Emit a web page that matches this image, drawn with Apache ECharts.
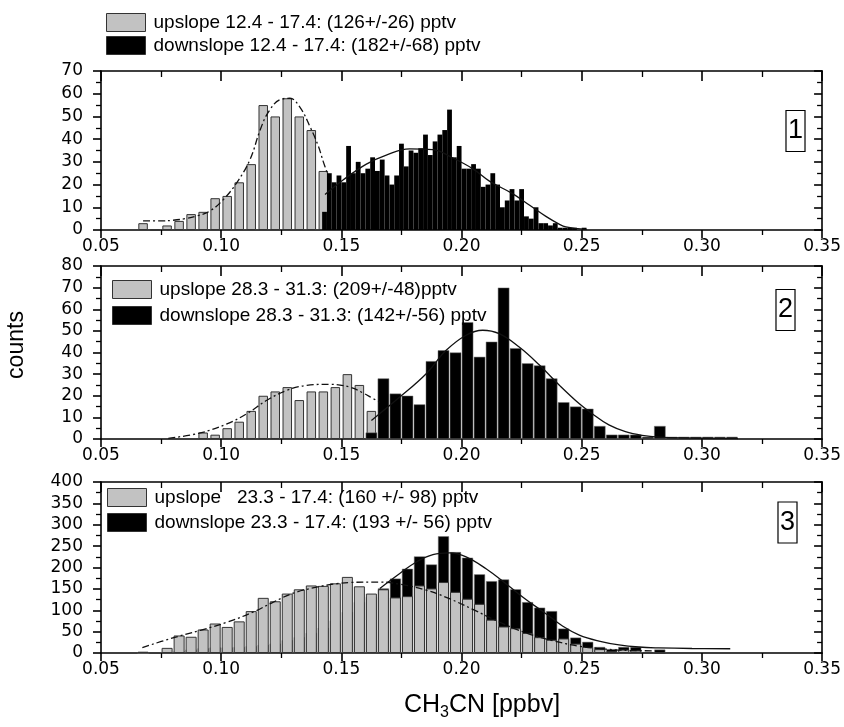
<!DOCTYPE html>
<html>
<head>
<meta charset="utf-8">
<script src="https://cdn.jsdelivr.net/npm/echarts@6/dist/echarts.min.js"></script>
<style>
html, body { margin: 0; padding: 0; background: #fff; }
#chart { width: 844px; height: 727px; }
</style>
</head>
<body>
<div id="chart"></div>
<script>
// CH3CN histograms, upslope vs downslope, three periods

// panel 1 (12.4 - 17.4)
const p1UpName = 'upslope 12.4 - 17.4: (126+/-26) pptv';
const p1DownName = 'downslope 12.4 - 17.4: (182+/-68) pptv';
const p1UpStart = 0.0675, p1UpBin = 0.005;
const p1UpCounts = [3, 0, 2, 4, 7, 8, 14, 15, 21, 29, 55, 50, 58, 50, 44, 26];
const p1DownStart = 0.143, p1DownBin = 0.002;
const p1DownCounts = [8, 25, 21, 24, 21, 37, 25, 30, 25, 27, 32, 26, 31, 24, 20, 24, 38, 28, 35, 34,
  36, 42, 33, 39, 42, 44, 53, 32, 37, 27, 27, 29, 27, 19, 20, 25, 20, 10, 13, 18,
  13, 18, 6, 5, 10, 3, 3, 2, 3, 1, 1, 1, 1, 0, 1];
const p1UpFit = [[0.0675, 4], [0.075, 4], [0.080, 4.3], [0.085, 5], [0.090, 6.2], [0.0955, 8.5], [0.101, 13.5],
  [0.1066, 21], [0.112, 31], [0.1162, 44], [0.1197, 52], [0.1245, 57.4], [0.1286, 58], [0.1328, 54],
  [0.1369, 45.6], [0.1404, 37], [0.1425, 30], [0.1445, 24]];
const p1DownFit = [[0.1432, 15.6], [0.1507, 22], [0.1604, 29], [0.1687, 33], [0.1784, 35.7], [0.188, 35.4],
  [0.1964, 31.7], [0.2046, 27], [0.2116, 21.5], [0.2212, 16], [0.2282, 11], [0.2351, 6], [0.2406, 2.6],
  [0.2434, 1.4], [0.252, 0.3]];

// panel 2 (28.3 - 31.3)
const p2UpName = 'upslope 28.3 - 31.3: (209+/-48)pptv';
const p2DownName = 'downslope 28.3 - 31.3: (142+/-56) pptv';
const p2UpStart = 0.0925, p2UpBin = 0.005;
const p2UpCounts = [3, 2, 5, 8, 13, 20, 22, 24, 18, 22, 22, 24, 30, 25, 13];
const p2DownStart = 0.1625, p2DownBin = 0.005;
const p2DownCounts = [3, 28, 21, 20, 16, 36, 41, 40, 54, 38, 45, 70, 42, 35, 34, 28, 17, 15, 14, 6,
  2, 2, 2, 1, 6, 1, 1, 1, 1, 1, 1];
const p2UpFit = [[0.078, 0.3], [0.0913, 2.8], [0.1024, 7], [0.1107, 11.7], [0.119, 17.9], [0.1273, 22.5],
  [0.1356, 24.8], [0.1452, 25.3], [0.1535, 24], [0.159, 21.3], [0.1632, 18.7], [0.166, 17]];
const p2DownFit = [[0.1625, 8.6], [0.1743, 19.4], [0.1853, 30.2], [0.1936, 41], [0.2019, 48], [0.2088, 50.3],
  [0.2157, 48.7], [0.224, 42.5], [0.2323, 34.3], [0.2406, 25], [0.2489, 16.4], [0.2544, 11.7],
  [0.2613, 6.5], [0.2682, 3.4], [0.2751, 1.7], [0.282, 0.9], [0.30, 0.3], [0.315, 0.2]];

// panel 3 (23.3 - 17.4)
const p3UpName = 'upslope   23.3 - 17.4: (160 +/- 98) pptv';
const p3DownName = 'downslope 23.3 - 17.4: (193 +/- 56) pptv';
const p3Start = 0.0675, p3Bin = 0.005;
const p3UpCounts = [3, 0, 12, 41, 38, 55, 69, 61, 74, 98, 129, 121, 139, 149, 158, 157, 163, 178, 156, 139,
  149, 130, 133, 158, 151, 166, 143, 127, 115, 78, 62, 58, 47, 37, 31, 34, 22, 14, 9, 4, 8, 6, 1, 0];
const p3DownCounts = [0, 0, 2, 4, 8, 11, 13, 13, 14, 16, 19, 22, 30, 37, 47, 59, 76, 96, 119, 131,
  151, 174, 197, 226, 207, 273, 236, 223, 184, 168, 172, 149, 119, 106, 98, 57, 36, 26, 14, 9, 14, 14, 2, 8];
const p3UpFit = [[0.0672, 12.6], [0.0789, 33.6], [0.0913, 53], [0.1024, 72], [0.1134, 96], [0.1217, 119],
  [0.13, 140], [0.1397, 154], [0.148, 162], [0.1535, 165], [0.166, 166], [0.1743, 161], [0.1853, 147],
  [0.195, 127], [0.2047, 102], [0.2157, 72.5], [0.2268, 47], [0.2378, 29], [0.2489, 16], [0.26, 9],
  [0.27, 6], [0.28, 5]];
const p3DownFit = [[0.166, 151], [0.1743, 186], [0.1812, 213], [0.1881, 230], [0.195, 234], [0.2019, 225],
  [0.2102, 197], [0.2185, 162], [0.2268, 125], [0.2351, 92], [0.242, 63], [0.249, 42], [0.2572, 28],
  [0.2655, 19], [0.2738, 14], [0.282, 12], [0.2959, 10.5], [0.3118, 10]];

const xRange = [0.05, 0.35, 0.05];
const yRanges = [[0, 70, 10], [0, 80, 10], [0, 400, 50]];

function bins(start, width, counts) {
  return counts.map((c, i) => [+(start + i * width).toFixed(4), c]);
}

const GRAY = '#c2c2c2';
const tickFont = 'DejaVu Sans';
const textFont = 'Liberation Sans';
const axisLineStyle = { color: '#000', width: 1.6 };

const gridPos = [{ top: 71, height: 159 }, { top: 266, height: 173 }, { top: 482, height: 171 }];

const xAxes = [];
const yAxes = [];
gridPos.forEach((g, i) => {
  const base = {
    type: 'value', gridIndex: i, min: xRange[0], max: xRange[1], interval: xRange[2],
    splitLine: { show: false },
    axisLine: { show: true, onZero: false, lineStyle: axisLineStyle },
    axisTick: { show: true, length: 8, lineStyle: { color: '#000', width: 1.6 } },
    minorTick: { show: true, splitNumber: 2, length: 5, lineStyle: { color: '#000', width: 1.3 } }
  };
  xAxes.push(Object.assign({}, base, {
    position: 'bottom',
    axisLabel: { formatter: v => v.toFixed(2), fontFamily: tickFont, fontSize: 17, color: '#000', margin: 8 }
  }));
  xAxes.push(Object.assign({}, base, {
    position: 'top',
    axisTick: { show: true, inside: true, length: 10, lineStyle: { color: '#000', width: 1.6 } },
    minorTick: { show: true, splitNumber: 2, length: 6, lineStyle: { color: '#000', width: 1.3 } },
    axisLabel: { show: false }
  }));
  xAxes.push({ type: 'value', gridIndex: i, min: xRange[0], max: xRange[1], show: false });

  const yr = yRanges[i];
  const ybase = {
    type: 'value', gridIndex: i, min: yr[0], max: yr[1], interval: yr[2],
    splitLine: { show: false },
    axisLine: { show: true, onZero: false, lineStyle: axisLineStyle },
    axisTick: { show: true, length: 8, lineStyle: { color: '#000', width: 1.6 } },
    minorTick: { show: true, splitNumber: 2, length: 5, lineStyle: { color: '#000', width: 1.3 } }
  };
  yAxes.push(Object.assign({}, ybase, {
    position: 'left',
    axisLabel: { fontFamily: tickFont, fontSize: 17, color: '#000', margin: 18 }
  }));
  yAxes.push(Object.assign({}, ybase, {
    position: 'right',
    axisTick: { show: true, inside: true, length: 8, lineStyle: { color: '#000', width: 1.6 } },
    axisLabel: { show: false }
  }));
});

function barSeries(name, data, gi, ownAxis, color, width, z, border) {
  return {
    name: name, type: 'bar', data: data,
    xAxisIndex: gi * 3 + (ownAxis ? 2 : 0), yAxisIndex: gi * 2,
    barWidth: width, z: z, animation: false,
    itemStyle: { color: color, borderColor: border.color, borderWidth: border.width }
  };
}

function fitSeries(data, gi, dashed) {
  return {
    type: 'line', data: data, xAxisIndex: gi * 3, yAxisIndex: gi * 2,
    showSymbol: false, smooth: 0.4, z: 5, animation: false, silent: true,
    lineStyle: { color: '#111', width: 1.3, type: dashed ? [7, 3, 2, 3] : 'solid' }
  };
}

const grayBorder = { color: '#333', width: 1 };
const blackBorder = { color: '#777', width: 0.5 };

const series = [
  barSeries(p1UpName, bins(p1UpStart, p1UpBin, p1UpCounts), 0, false, GRAY, 9.5, 2, grayBorder),
  barSeries(p1DownName, bins(p1DownStart, p1DownBin, p1DownCounts), 0, true, '#000', 4.8, 3, { color: '#000', width: 0 }),
  fitSeries(p1UpFit, 0, true),
  fitSeries(p1DownFit, 0, false),

  barSeries(p2UpName, bins(p2UpStart, p2UpBin, p2UpCounts), 1, false, GRAY, 9.5, 2, grayBorder),
  barSeries(p2DownName, bins(p2DownStart, p2DownBin, p2DownCounts), 1, true, '#000', 11.5, 3, blackBorder),
  fitSeries(p2UpFit, 1, true),
  fitSeries(p2DownFit, 1, false),

  barSeries(p3UpName, bins(p3Start, p3Bin, p3UpCounts), 2, false, GRAY, 11, 3, grayBorder),
  barSeries(p3DownName, bins(p3Start, p3Bin, p3DownCounts), 2, true, '#000', 11, 2, blackBorder),
  fitSeries(p3UpFit, 2, true),
  fitSeries(p3DownFit, 2, false)
];

function legendFor(names, left, top, gap) {
  return {
    data: names, left: left, top: top, orient: 'vertical', padding: 0,
    itemWidth: 39, itemHeight: 18, itemGap: gap, icon: 'rect',
    selectedMode: false,
    itemStyle: { borderColor: '#333', borderWidth: 1 },
    textStyle: { fontFamily: textFont, fontSize: 19, color: '#000', padding: [0, 0, 0, 3] }
  };
}

function panelLabel(text, x, y) {
  return {
    type: 'text', x: x, y: y, z: 10,
    style: {
      text: text, font: '27px "Liberation Sans"', fill: '#000',
      align: 'center', verticalAlign: 'middle',
      borderColor: '#000', borderWidth: 1.2, padding: [7, 2, 7, 2]
    }
  };
}

const option = {
  backgroundColor: '#fff',
  animation: false,
  grid: gridPos.map(g => ({ left: 101, right: 21, top: g.top, height: g.height })),
  xAxis: xAxes,
  yAxis: yAxes,
  legend: [
    legendFor([p1UpName, p1DownName], 106, 13, 4),
    legendFor([p2UpName, p2DownName], 112, 280, 7),
    legendFor([p3UpName, p3DownName], 107, 488, 6)
  ],
  series: series,
  graphic: [
    panelLabel('1', 795.5, 131),
    panelLabel('2', 785.5, 310),
    panelLabel('3', 787.5, 522.5),
    {
      type: 'text', x: 17, y: 345, rotation: Math.PI / 2,
      style: { text: 'counts', font: '23px "Liberation Sans"', fill: '#000', align: 'center', verticalAlign: 'middle' }
    },
    {
      type: 'text', x: 482, y: 705,
      style: {
        text: '{a|CH}{b|3}{a|CN [ppbv]}', align: 'center', verticalAlign: 'middle',
        rich: {
          a: { font: '25px "Liberation Sans"', fill: '#000', lineHeight: 30, verticalAlign: 'middle' },
          b: { font: '16px "Liberation Sans"', fill: '#000', lineHeight: 32, verticalAlign: 'bottom' }
        }
      }
    }
  ]
};

const chart = echarts.init(document.getElementById('chart'), null, { renderer: 'canvas' });
chart.setOption(option);
</script>
</body>
</html>
